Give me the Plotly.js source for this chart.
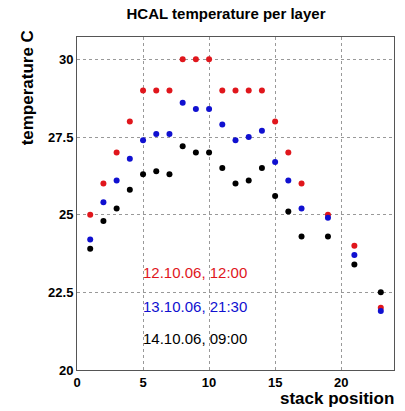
<!DOCTYPE html>
<html><head><meta charset="utf-8">
<script src="https://cdn.plot.ly/plotly-3.0.1.min.js"></script>
<style>body{margin:0;background:#fff}#c{width:405px;height:411px}</style>
</head><body><div id="c"></div>
<script>
const stackPos = [1,2,3,4,5,6,7,8,9,10,11,12,13,14,15,16,17,19,21,23];
const temp_12_10 = [25,26,27,28,29,29,29,30,30,30,29,29,29,29,28,27,26,25,24,22.0];
const temp_13_10 = [24.2,25.4,26.1,26.8,27.4,27.6,27.6,28.6,28.4,28.4,27.9,27.4,27.5,27.7,26.7,26.1,25.2,24.9,23.7,21.9];
const temp_14_10 = [23.9,24.8,25.2,25.8,26.3,26.4,26.3,27.2,27.0,27.0,26.5,26.0,26.1,26.5,25.6,25.1,24.3,24.3,23.4,22.5];
const seriesNames = ["12.10.06, 12:00","13.10.06, 21:30","14.10.06, 09:00"];
const seriesColors = ["#e0161c","#1010d0","#000000"];
const xTicks = [0,5,10,15,20];
const yTicks = [20,22.5,25,27.5,30];

const allY = [temp_12_10, temp_13_10, temp_14_10];
const traces = allY.map((y,i)=>({
  x: stackPos, y: y, type:'scatter', mode:'markers', name: seriesNames[i],
  marker:{color:seriesColors[i], size:6}, cliponaxis:false
}));
const F = "Liberation Sans, Arial, sans-serif";
const labelY = [23.15, 22.06, 21.03];
const ann = seriesNames.map((t,i)=>({
  x:4.85, y:labelY[i], xref:'x', yref:'y', text:t, showarrow:false,
  xanchor:'left', yanchor:'middle', font:{family:F, size:15, color:seriesColors[i]}
}));
ann.push({xref:'paper', yref:'paper', x:1.005, y:-0.05, xanchor:'right', yanchor:'top',
  text:'<b>stack position</b>', showarrow:false, font:{family:F, size:17, color:'#000'}});
ann.push({xref:'paper', yref:'paper', x:-0.155, y:1.027, xanchor:'center', yanchor:'top', textangle:-90,
  text:'<b>temperature C</b>', showarrow:false, font:{family:F, size:17, color:'#000'}});

const layout = {
  width:405, height:411,
  margin:{l:77, r:11, t:37, b:41},
  paper_bgcolor:'#fff', plot_bgcolor:'#fff',
  showlegend:false,
  title:{text:'<b>HCAL temperature per layer</b>', x:0.558, xanchor:'center', y:0.966, yanchor:'middle',
    font:{family:F, size:15, color:'#000'}},
  xaxis:{range:[0,24], tickvals:xTicks, ticktext:xTicks.map(v=>'<b>'+v+'</b>'),
    showgrid:true, gridcolor:'#999', griddash:'dot', gridwidth:1,
    zeroline:false, showline:true, linecolor:'#555', mirror:true, linewidth:1,
    ticks:'', tickfont:{family:F, size:13, color:'#000'}},
  yaxis:{range:[20,30.72], tickvals:yTicks, ticktext:yTicks.map(v=>'<b>'+v+'</b>'),
    showgrid:true, gridcolor:'#999', griddash:'dot', gridwidth:1,
    zeroline:false, showline:true, linecolor:'#555', mirror:true, linewidth:1,
    ticks:'', tickfont:{family:F, size:13, color:'#000'}},
  annotations: ann
};
Plotly.newPlot('c', traces, layout, {staticPlot:true, displayModeBar:false});
</script></body></html>
